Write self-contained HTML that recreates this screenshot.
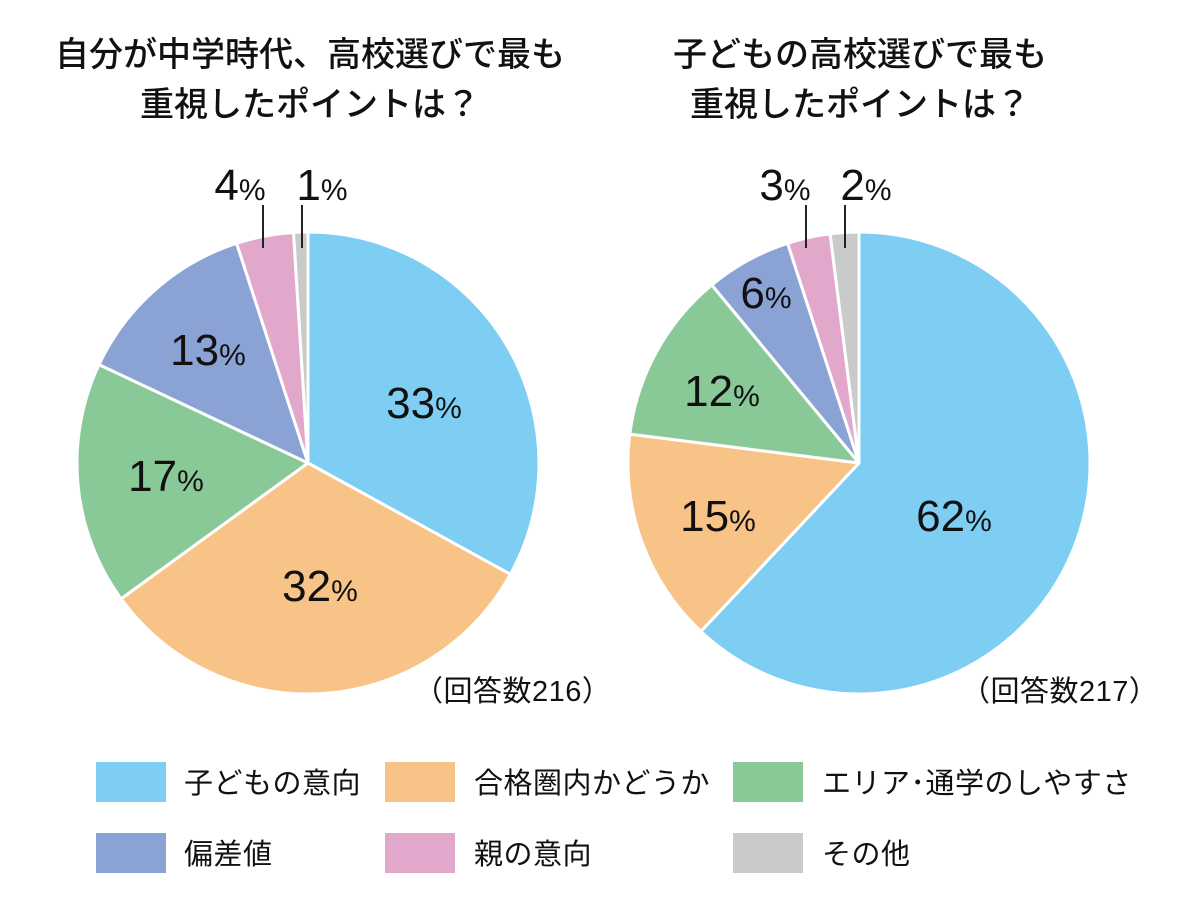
<!DOCTYPE html>
<html><head><meta charset="utf-8"><style>
html,body{margin:0;padding:0;background:#fff;}
svg{display:block;}
text{font-family:"Liberation Sans","Noto Sans CJK JP",sans-serif;fill:#111;}
.t{font-size:34px;font-weight:500;}
.n{font-size:44px;}
.p{font-size:30px;}
.l{font-size:29px;letter-spacing:0.5px;}
</style></head><body>
<svg width="1200" height="904" viewBox="0 0 1200 904">
<g text-anchor="middle">
<text x="310" y="66" class="t">自分が中学時代、高校選びで最も</text>
<text x="310" y="116" class="t">重視したポイントは？</text>
<text x="860" y="66" class="t">子どもの高校選びで最も</text>
<text x="860" y="116" class="t">重視したポイントは？</text>
</g>
<g stroke="#fff" stroke-width="3" stroke-linejoin="round">
<path d="M308,463 L308,232 A231,231 0 0 1 510.4,574.3 Z" fill="#7ecef4"/>
<path d="M308,463 L510.4,574.3 A231,231 0 0 1 121.1,598.8 Z" fill="#f8c387"/>
<path d="M308,463 L121.1,598.8 A231,231 0 0 1 99.0,364.6 Z" fill="#89c997"/>
<path d="M308,463 L99.0,364.6 A231,231 0 0 1 236.6,243.3 Z" fill="#8ba3d4"/>
<path d="M308,463 L236.6,243.3 A231,231 0 0 1 293.5,232.5 Z" fill="#e1a8cc"/>
<path d="M308,463 L293.5,232.5 A231,231 0 0 1 308,232 Z" fill="#c9caca"/>

<path d="M859,463 L859,232 A231,231 0 1 1 700.9,631.4 Z" fill="#7ecef4"/>
<path d="M859,463 L700.9,631.4 A231,231 0 0 1 629.8,434.1 Z" fill="#f8c387"/>
<path d="M859,463 L629.8,434.1 A231,231 0 0 1 711.8,285.0 Z" fill="#89c997"/>
<path d="M859,463 L711.8,285.0 A231,231 0 0 1 787.6,243.3 Z" fill="#8ba3d4"/>
<path d="M859,463 L787.6,243.3 A231,231 0 0 1 830.1,233.8 Z" fill="#e1a8cc"/>
<path d="M859,463 L830.1,233.8 A231,231 0 0 1 859,232 Z" fill="#c9caca"/>
</g>
<g stroke="#222" stroke-width="2">
<line x1="263" y1="205" x2="263" y2="248"/>
<line x1="302" y1="205" x2="302" y2="248"/>
<line x1="806" y1="205" x2="806" y2="248"/>
<line x1="845" y1="205" x2="845" y2="248"/>
</g>
<g text-anchor="middle">
<text x="424" y="418"><tspan class="n">33</tspan><tspan class="p">%</tspan></text>
<text x="320" y="601"><tspan class="n">32</tspan><tspan class="p">%</tspan></text>
<text x="166" y="491"><tspan class="n">17</tspan><tspan class="p">%</tspan></text>
<text x="208" y="365"><tspan class="n">13</tspan><tspan class="p">%</tspan></text>
<text x="240" y="200"><tspan class="n">4</tspan><tspan class="p">%</tspan></text>
<text x="322" y="200"><tspan class="n">1</tspan><tspan class="p">%</tspan></text>
<text x="954" y="531"><tspan class="n">62</tspan><tspan class="p">%</tspan></text>
<text x="718" y="531"><tspan class="n">15</tspan><tspan class="p">%</tspan></text>
<text x="722" y="406"><tspan class="n">12</tspan><tspan class="p">%</tspan></text>
<text x="766" y="308"><tspan class="n">6</tspan><tspan class="p">%</tspan></text>
<text x="785" y="200"><tspan class="n">3</tspan><tspan class="p">%</tspan></text>
<text x="866" y="200"><tspan class="n">2</tspan><tspan class="p">%</tspan></text>
</g>
<text x="414" y="701" class="l">（回答数216）</text>
<text x="961" y="701" class="l">（回答数217）</text>

<rect x="96" y="762" width="70" height="40" fill="#7ecef4"/>
<rect x="385" y="762" width="70" height="40" fill="#f8c387"/>
<rect x="733" y="762" width="70" height="40" fill="#89c997"/>
<rect x="96" y="833" width="70" height="40" fill="#8ba3d4"/>
<rect x="385" y="833" width="70" height="40" fill="#e1a8cc"/>
<rect x="733" y="833" width="70" height="40" fill="#c9caca"/>
<text x="184" y="793" class="l">子どもの意向</text>
<text x="474" y="793" class="l">合格圏内かどうか</text>
<text x="822" y="793" class="l">エリア･通学のしやすさ</text>
<text x="184" y="864" class="l">偏差値</text>
<text x="474" y="864" class="l">親の意向</text>
<text x="822" y="864" class="l">その他</text>
</svg>
</body></html>
